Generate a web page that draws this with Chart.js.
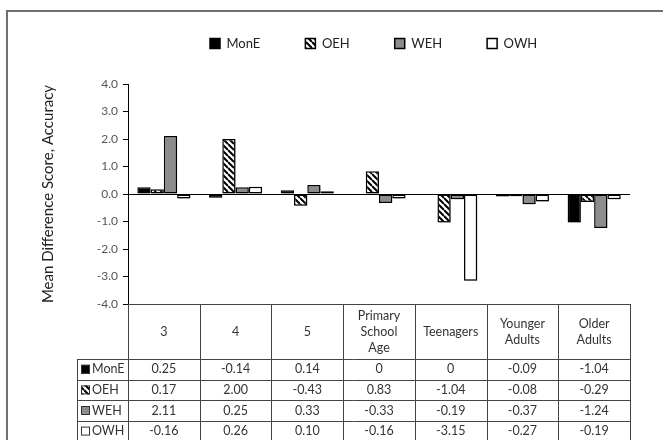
<!DOCTYPE html>
<html>
<head>
<meta charset="utf-8">
<script src="https://cdn.jsdelivr.net/npm/chart.js@4/dist/chart.umd.min.js"></script>
<style>
  body { margin: 0; background: #fff; }
  #wrap { width: 663px; height: 440px; position: relative; }
</style>
</head>
<body>
<div id="wrap"><canvas id="chart"></canvas></div>
<script>
// chart values (table below the bars)
const categories = ['3', '4', '5', ['Primary', 'School', 'Age'], 'Teenagers', ['Younger', 'Adults'], ['Older', 'Adults']];
const seriesNames = ['MonE', 'OEH', 'WEH', 'OWH'];
const monE = [0.25, -0.14, 0.14, 0, 0, -0.09, -1.04];
const oeh  = [0.17, 2.00, -0.43, 0.83, -1.04, -0.08, -0.29];
const weh  = [2.11, 0.25, 0.33, -0.33, -0.19, -0.37, -1.24];
const owh  = [-0.16, 0.26, 0.10, -0.16, -3.15, -0.27, -0.19];
const yMin = -4, yMax = 4, yStep = 1;

const FONT = 'Lato, "Open Sans", sans-serif';

// diagonal hatch for OEH
const makeHatch = () => {
    const pc = document.createElement('canvas');
    pc.width = 6; pc.height = 6;
    const g = pc.getContext('2d');
    g.fillStyle = '#fff';
    g.fillRect(0, 0, 6, 6);
    g.strokeStyle = '#000';
    g.lineWidth = 2;
    g.beginPath();
    for (let k = -1; k <= 1; k++) {
        g.moveTo(0, k * 6);
        g.lineTo(6, 6 + k * 6);
    }
    g.stroke();
    return g.createPattern(pc, 'repeat');
};
const hatch = makeHatch();

const fills = ['#000', hatch, '#8c8c8c', '#fff'];
const seriesData = [monE, oeh, weh, owh];

const fmt = v => v === 0 ? '0' : v.toFixed(2);

// outer frame of the figure
const framePlugin = {
    id: 'frame',
    beforeDraw(chart) {
        const ctx = chart.ctx;
        ctx.save();
        ctx.strokeStyle = '#707070';
        ctx.lineWidth = 2;
        ctx.strokeRect(7, 11, 720, 520);
        ctx.restore();
    }
};

// put the legend where the original has it
const legendPos = {
    id: 'legendPos',
    afterLayout(chart) {
        chart.legend.left = 165;
        chart.legend.top = -8;
    }
};

// slight drop shadow under bars
const barShadow = {
    id: 'barShadow',
    beforeDatasetsDraw(chart) {
        const ctx = chart.ctx;
        ctx.save();
        ctx.shadowColor = 'rgba(0,0,0,0.3)';
        ctx.shadowOffsetX = 2;
        ctx.shadowOffsetY = 2;
        ctx.shadowBlur = 2;
    },
    afterDatasetsDraw(chart) {
        chart.ctx.restore();
    }
};

// data table under the plot
const dataTable = {
    id: 'dataTable',
    afterDraw(chart) {
        const ctx = chart.ctx;
        const xs = chart.scales.x;
        const area = chart.chartArea;
        const n = categories.length;
        const colW = (area.right - area.left) / n;
        const headerH = 55;
        const rowH = 20.6;
        const keyLeft = 77;
        const top = area.bottom;
        const rowsTop = top + headerH;
        const bottom = rowsTop + rowH * seriesNames.length;

        ctx.save();
        ctx.strokeStyle = '#444';
        ctx.lineWidth = 1;
        ctx.beginPath();
        ctx.moveTo(area.left, top + 0.5);
        ctx.lineTo(area.right, top + 0.5);
        for (let r = 0; r <= seriesNames.length; r++) {
            const y = Math.round(rowsTop + r * rowH) + 0.5;
            ctx.moveTo(keyLeft, y);
            ctx.lineTo(area.right, y);
        }
        for (let c = 0; c <= n; c++) {
            const x = Math.round(area.left + c * colW) + 0.5;
            ctx.moveTo(x, top);
            ctx.lineTo(x, bottom);
        }
        ctx.moveTo(keyLeft + 0.5, rowsTop);
        ctx.lineTo(keyLeft + 0.5, bottom);
        ctx.stroke();

        ctx.fillStyle = '#333';
        ctx.font = '12.5px ' + FONT;
        ctx.textAlign = 'center';
        ctx.textBaseline = 'middle';
        categories.forEach((cat, i) => {
            const lines = Array.isArray(cat) ? cat : [cat];
            const cx = xs.getPixelForValue(i);
            const cy = top + headerH / 2;
            lines.forEach((ln, j) => {
                ctx.fillText(ln, cx, cy + (j - (lines.length - 1) / 2) * 16);
            });
        });

        seriesNames.forEach((name, r) => {
            const cy = rowsTop + r * rowH + rowH / 2;
            seriesData[r].forEach((v, i) => {
                ctx.fillStyle = '#333';
                ctx.textAlign = 'center';
                ctx.fillText(fmt(v), xs.getPixelForValue(i), cy);
            });
            // key swatch
            ctx.fillStyle = fills[r];
            ctx.fillRect(81, cy - 4.5, 9, 9);
            ctx.strokeStyle = '#333';
            ctx.strokeRect(81.5, cy - 4, 8, 8);
            ctx.fillStyle = '#333';
            ctx.textAlign = 'left';
            ctx.fillText(name, 92, cy);
        });
        ctx.restore();
    }
};

const initChart = () => {
    new Chart(document.getElementById('chart'), {
        type: 'bar',
        data: {
            labels: categories,
            datasets: seriesNames.map((name, i) => ({
                label: name,
                data: seriesData[i],
                backgroundColor: fills[i],
                borderColor: '#000',
                borderWidth: 1.5,
                borderSkipped: false
            }))
        },
        options: {
            responsive: true,
            maintainAspectRatio: false,
            animation: false,
            devicePixelRatio: 1,
            layout: { padding: { left: 7, right: 33, top: 16, bottom: 136 } },
            datasets: { bar: { barPercentage: 1, categoryPercentage: 0.74 } },
            plugins: {
                legend: {
                    position: 'top',
                    align: 'start',
                    labels: {
                        boxWidth: 10,
                        boxHeight: 10,
                        padding: 45,
                        color: '#222',
                        font: { family: FONT, size: 13 }
                    }
                },
                tooltip: { enabled: false }
            },
            scales: {
                x: { display: false },
                y: {
                    min: yMin,
                    max: yMax,
                    afterFit: scale => { scale.width = 121; },
                    border: { color: '#000', width: 1 },
                    grid: {
                        color: c => c.tick && c.tick.value === 0 ? '#000' : 'rgba(0,0,0,0)',
                        tickColor: '#000',
                        tickLength: 5
                    },
                    ticks: {
                        stepSize: yStep,
                        padding: 5,
                        color: '#555',
                        font: { family: FONT, size: 12 },
                        callback: v => v.toFixed(1)
                    },
                    title: {
                        display: true,
                        text: 'Mean Difference Score, Accuracy',
                        color: '#222',
                        padding: { top: 32, bottom: 0 },
                        font: { family: FONT, size: 15 }
                    }
                }
            }
        },
        plugins: [framePlugin, legendPos, barShadow, dataTable]
    });
};

window.onload = initChart;
</script>
</body>
</html>
